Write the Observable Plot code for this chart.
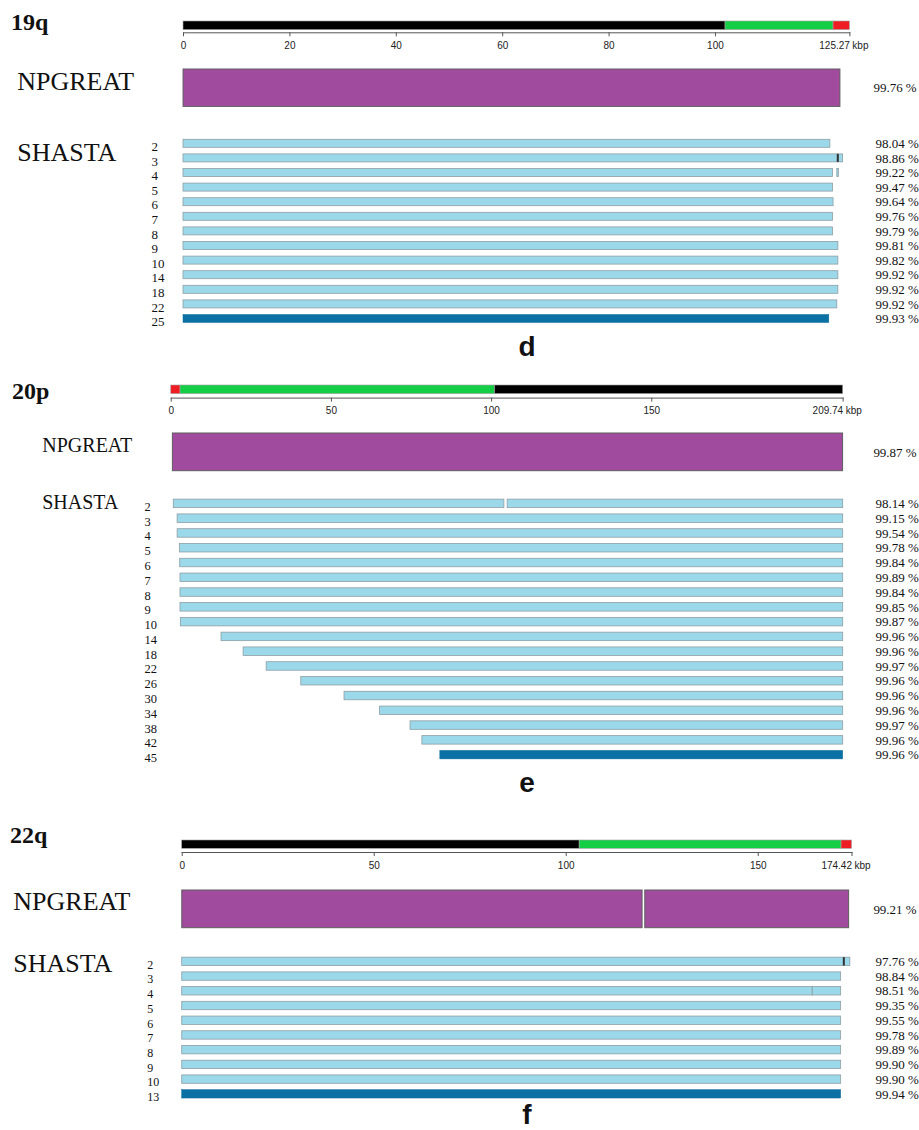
<!DOCTYPE html>
<html><head><meta charset="utf-8">
<script src="https://cdn.jsdelivr.net/npm/d3@7"></script>
<script src="https://cdn.jsdelivr.net/npm/@observablehq/plot@0.6"></script>
<style>
body{margin:0;background:#fff;}
#root{position:relative;width:919px;height:1130px;overflow:hidden;}
.title{position:absolute;font-family:"Liberation Serif","Times New Roman",serif;font-weight:bold;font-size:24px;line-height:1;color:#111;white-space:nowrap;}
.letter{position:absolute;font-family:"Liberation Sans",Arial,sans-serif;font-weight:bold;font-size:28px;line-height:1;color:#111;width:40px;text-align:center;}
svg{overflow:visible;}
</style></head><body><div id="root"></div>
<script>
// ================= DATA =================
// Panel d : 19q
const d_title = "19q";
const d_length = 125.27;
const d_ticks = [0, 20, 40, 60, 80, 100];
const d_bandStart = [0, 101.9, 122.2];
const d_bandEnd = [101.9, 122.2, 125.27];
const d_bandKind = ["dark", "green", "red"];
const d_npStart = [0];
const d_npEnd = [123.5];
const d_npPct = 99.76;
const d_rows = ["2","3","4","5","6","7","8","9","10","14","18","22","25"];
const d_pct = [98.04, 98.86, 99.22, 99.47, 99.64, 99.76, 99.79, 99.81, 99.82, 99.92, 99.92, 99.92, 99.93];
const d_start = [0,0,0,0,0,0,0,0,0,0,0,0,0];
const d_end = [121.6, 123.0, 122.1, 122.1, 122.2, 122.1, 122.1, 123.1, 123.1, 123.1, 123.1, 122.9, 121.4];
const d_extraRow = ["3", "4"];
const d_extraStart = [123.0, 122.9];
const d_extraEnd = [124.0, 123.2];
const d_markRow = ["3"];
const d_markPos = [123.0];

// Panel e : 20p
const e_title = "20p";
const e_length = 209.74;
const e_ticks = [0, 50, 100, 150];
const e_bandStart = [0, 2.9, 101.1];
const e_bandEnd = [2.9, 101.1, 209.74];
const e_bandKind = ["red", "green", "dark"];
const e_npStart = [0.5];
const e_npEnd = [209.74];
const e_npPct = 99.87;
const e_rows = ["2","3","4","5","6","7","8","9","10","14","18","22","26","30","34","38","42","45"];
const e_pct = [98.14, 99.15, 99.54, 99.78, 99.84, 99.89, 99.84, 99.85, 99.87, 99.96, 99.96, 99.97, 99.96, 99.96, 99.96, 99.97, 99.96, 99.96];
const e_start = [0.8, 2.0, 2.0, 2.7, 2.8, 2.9, 2.9, 2.9, 3.0, 15.7, 22.6, 29.8, 40.6, 54.1, 65.2, 74.7, 78.4, 84.0];
const e_end = [104.0, 209.74, 209.74, 209.74, 209.74, 209.74, 209.74, 209.74, 209.74, 209.74, 209.74, 209.74, 209.74, 209.74, 209.74, 209.74, 209.74, 209.74];
const e_extraRow = ["2"];
const e_extraStart = [105.0];
const e_extraEnd = [209.74];
const e_markRow = [];
const e_markPos = [];

// Panel f : 22q
const f_title = "22q";
const f_length = 174.42;
const f_ticks = [0, 50, 100, 150];
const f_bandStart = [0, 103.5, 171.7];
const f_bandEnd = [103.5, 171.7, 174.42];
const f_bandKind = ["dark", "green", "red"];
const f_npStart = [0, 120.6];
const f_npEnd = [119.9, 173.7];
const f_npPct = 99.21;
const f_rows = ["2","3","4","5","6","7","8","9","10","13"];
const f_pct = [97.76, 98.84, 98.51, 99.35, 99.55, 99.78, 99.89, 99.90, 99.90, 99.94];
const f_start = [0,0,0,0,0,0,0,0,0,0];
const f_end = [174.0, 171.6, 164.2, 171.6, 171.6, 171.6, 171.6, 171.6, 171.6, 171.6];
const f_extraRow = ["4"];
const f_extraStart = [164.2];
const f_extraEnd = [171.6];
const f_markRow = ["2"];
const f_markPos = [172.3];

const unitLabel = "kbp";
const assemblerA = "NPGREAT";
const assemblerB = "SHASTA";
const bandKinds = ["dark", "green", "red"];
const bandFills = ["#000000", "#14cf45", "#ee1d24"];

// ================= DRAWING =================
const W = 919;
const SERIF = '"Liberation Serif","Times New Roman",serif';
const SANS = '"Liberation Sans",Arial,sans-serif';
const root = document.getElementById("root");

function place(el, top) {
  el.style.position = "absolute";
  el.style.left = "0px";
  el.style.top = top + "px";
  root.appendChild(el);
}
function html(cls, text, left, top) {
  const div = document.createElement("div");
  div.className = cls; div.textContent = text;
  div.style.left = left + "px"; div.style.top = top + "px";
  root.appendChild(div);
}
const zipBands = (s, e, k) => s.map((v, i) => ({start: v, end: e[i], kind: k[i]}));
const zipSegs = (rows, s, e) => rows.map((r, i) => ({row: r, start: s[i], end: e[i]}));

function drawPanel(p) {
  // ideogram + axis
  const mt = 4, mb = 22;
  const frameH = p.axisY - p.barTop;
  const ideo = Plot.plot({
    width: W, height: mt + frameH + mb,
    marginTop: mt, marginBottom: mb, marginLeft: p.x0, marginRight: W - p.x1,
    style: {fontFamily: SANS, fontSize: "10px", background: "transparent", overflow: "visible"},
    x: {domain: [0, p.len], label: null},
    color: {domain: bandKinds, range: bandFills},
    marks: [
      Plot.barX(p.bands, {x1: "start", x2: "end", fill: "kind", stroke: "#a0a0a0", strokeWidth: 0.6, insetBottom: p.axisY - p.barBottom}),
      Plot.frame({anchor: "bottom", stroke: "#555", strokeWidth: 1}),
      Plot.axisX([...p.ticks, p.len], {tickSize: 4, tickPadding: 5, stroke: "#555", fill: "#222", label: null,
        tickFormat: v => v === p.len ? "" : String(v)}),
      Plot.text([p.len], {x: d => d, text: d => d.toFixed(2), frameAnchor: "bottom", textAnchor: "end", lineAnchor: "top", dy: 9, fill: "#222"}),
      Plot.text([p.len], {x: d => d, text: () => unitLabel, frameAnchor: "bottom", textAnchor: "start", lineAnchor: "top", dy: 9, dx: 2.5, fill: "#222"})
    ]
  });
  place(ideo, p.barTop - mt);

  // NPGREAT
  const m = 3;
  const np = Plot.plot({
    width: W, height: p.npH + 2 * m,
    marginTop: m, marginBottom: m, marginLeft: p.x0, marginRight: W - p.x1,
    style: {fontFamily: SERIF, background: "transparent", overflow: "visible"},
    x: {domain: [0, p.len], axis: null},
    marks: [
      Plot.barX(p.np, {x1: "start", x2: "end", fill: "#a14b9f", stroke: "#5e5e5e", strokeWidth: 1}),
      Plot.text([assemblerA], {text: d => d, frameAnchor: "left", textAnchor: "start", dx: p.nameX - p.x0, dy: p.npDy, fontSize: p.nameSize, fill: "#111"}),
      Plot.text([p.npPct], {text: d => d.toFixed(2) + " %", frameAnchor: "right", textAnchor: "start", dx: 873 - p.x1, fontSize: 13, fill: "#111"})
    ]
  });
  place(np, p.npTop - m);

  // SHASTA
  const H = p.rows.length * p.step;
  const inset = (p.step - p.barH) / 2;
  const consensus = p.rows[p.rows.length - 1];
  const reads = p.segs.filter(d => d.row !== consensus);
  const cons = p.segs.filter(d => d.row === consensus);
  const sh = Plot.plot({
    width: W, height: H + 2 * m,
    marginTop: m, marginBottom: m, marginLeft: p.x0, marginRight: W - p.x1,
    style: {fontFamily: SERIF, background: "transparent", overflow: "visible"},
    x: {domain: [0, p.len], axis: null},
    y: {domain: p.rows, axis: null, padding: 0, round: false},
    marks: [
      Plot.barX(reads, {x1: "start", x2: "end", y: "row", fill: "#9ad8ea", stroke: "#8f9ea4", strokeWidth: 0.8, insetTop: inset, insetBottom: inset}),
      Plot.barX(cons, {x1: "start", x2: "end", y: "row", fill: "#0b70a3", stroke: "#0b6a9a", strokeWidth: 0.5, insetTop: inset, insetBottom: inset}),
      Plot.tickX(p.marks, {x: "pos", y: "row", stroke: "#333", strokeWidth: 2, insetTop: inset, insetBottom: inset}),
      Plot.text(p.rows, {y: d => d, text: d => d, frameAnchor: "left", textAnchor: "start", dx: p.rowX - p.x0, dy: 3, fontSize: p.rowSize, fill: "#111"}),
      Plot.text(p.rows, {y: d => d, text: (d, i) => p.pct[i].toFixed(2) + " %", frameAnchor: "right", textAnchor: "start", dx: 875 - p.x1, fontSize: 13, fill: "#111"}),
      Plot.text([p.rows[0]], {y: d => d, text: () => assemblerB, frameAnchor: "left", textAnchor: "start", dx: p.nameX - p.x0, dy: p.shDy, fontSize: p.nameSize, fill: "#111"})
    ]
  });
  place(sh, p.shTop - m);
}

drawPanel({
  len: d_length, ticks: d_ticks, x0: 183, x1: 849.4,
  bands: zipBands(d_bandStart, d_bandEnd, d_bandKind),
  barTop: 20.7, barBottom: 29.3, axisY: 32,
  np: d_npStart.map((s, i) => ({start: s, end: d_npEnd[i]})), npPct: d_npPct, npTop: 69.3, npH: 37.4,
  nameX: 16.7, nameSize: 26, npDy: -7,
  rows: d_rows, pct: d_pct,
  segs: zipSegs(d_rows, d_start, d_end).concat(zipSegs(d_extraRow, d_extraStart, d_extraEnd)),
  marks: d_markRow.map((r, i) => ({row: r, pos: d_markPos[i]})),
  step: 14.6, barH: 8, shTop: 136.1, rowX: 151, rowSize: 13, shDy: 8.5
});
drawPanel({
  len: e_length, ticks: e_ticks, x0: 170.7, x1: 842.7,
  bands: zipBands(e_bandStart, e_bandEnd, e_bandKind),
  barTop: 384.7, barBottom: 393.3, axisY: 397.3,
  np: e_npStart.map((s, i) => ({start: s, end: e_npEnd[i]})), npPct: e_npPct, npTop: 433.3, npH: 37.7,
  nameX: 41.7, nameSize: 20, npDy: -6.5,
  rows: e_rows, pct: e_pct,
  segs: zipSegs(e_rows, e_start, e_end).concat(zipSegs(e_extraRow, e_extraStart, e_extraEnd)),
  marks: e_markRow.map((r, i) => ({row: r, pos: e_markPos[i]})),
  step: 14.78, barH: 8.5, shTop: 496.3, rowX: 144, rowSize: 12.5, shDy: -1.7
});
drawPanel({
  len: f_length, ticks: f_ticks, x0: 181.7, x1: 851.5,
  bands: zipBands(f_bandStart, f_bandEnd, f_bandKind),
  barTop: 840, barBottom: 848.3, axisY: 852,
  np: f_npStart.map((s, i) => ({start: s, end: f_npEnd[i]})), npPct: f_npPct, npTop: 890, npH: 37.7,
  nameX: 12.7, nameSize: 26, npDy: -8,
  rows: f_rows, pct: f_pct,
  segs: zipSegs(f_rows, f_start, f_end).concat(zipSegs(f_extraRow, f_extraStart, f_extraEnd)),
  marks: f_markRow.map((r, i) => ({row: r, pos: f_markPos[i]})),
  step: 14.72, barH: 8.4, shTop: 954.1, rowX: 146.7, rowSize: 12, shDy: 1.5
});

html("title", d_title, 11, 9.5);
html("title", e_title, 12, 379);
html("title", f_title, 10, 823);
html("letter", "d", 507, 333);
html("letter", "e", 507, 769);
html("letter", "f", 507, 1101);
</script>
</body></html>
